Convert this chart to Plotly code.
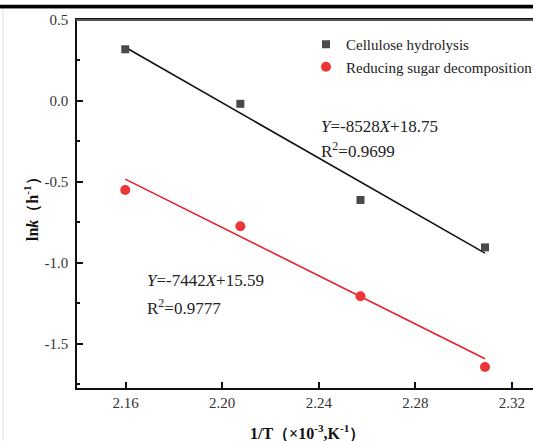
import plotly.graph_objects as go

# Data
inv_T = [2.1598, 2.2075, 2.2573, 2.3089]          # 1/T (x10^-3 K^-1)
cellulose_lnk = [0.319, -0.018, -0.612, -0.905]   # Cellulose hydrolysis
sugar_lnk = [-0.551, -0.774, -1.207, -1.644]      # Reducing sugar decomposition
series_names = ["Cellulose hydrolysis", "Reducing sugar decomposition"]
fit_slopes = [-8528, -7442]
fit_intercepts = [18.75, 15.59]
x_ticks = [2.16, 2.20, 2.24, 2.28, 2.32]
y_ticks = [0.5, 0.0, -0.5, -1.0, -1.5]

SERIF = "Liberation Serif, Times New Roman, serif"
BLACK_C = "#4a4a4a"
RED_C = "#ee3535"
W, H = 533, 441
XR = [2.1398, 2.3288]
YR = [-1.774, 0.5]


def px(xp):
    return xp / W


def py(yp):
    return 1 - yp / H


fig = go.Figure()

# decorative frame lines on a full-figure overlay subplot (x4/y4 = page fractions)
fig.add_trace(go.Scatter(x=[0, 1], y=[py(6.6), py(6.6)], xaxis="x4", yaxis="y4",
                         mode="lines", line=dict(color="#000000", width=3.5),
                         showlegend=False, hoverinfo="skip", cliponaxis=False))
fig.add_trace(go.Scatter(x=[px(76), 1], y=[py(20), py(20)], xaxis="x4", yaxis="y4",
                         mode="lines", line=dict(color="#555555", width=2),
                         showlegend=False, hoverinfo="skip", cliponaxis=False))
fig.add_trace(go.Scatter(x=[px(3), px(3)], y=[0, py(9)], xaxis="x4", yaxis="y4",
                         mode="lines", line=dict(color="#e6ebf0", width=1.5),
                         showlegend=False, hoverinfo="skip", cliponaxis=False))

# fit lines from the stated equations (X in K^-1)
fit_x = [inv_T[0], inv_T[-1]]
for slope, icpt, col in zip(fit_slopes, fit_intercepts, ["#111111", "#e8202a"]):
    fig.add_trace(go.Scatter(
        x=fit_x, y=[slope * v * 1e-3 + icpt for v in fit_x],
        mode="lines", line=dict(color=col, width=1.6),
        showlegend=False, hoverinfo="skip"))

fig.add_trace(go.Scatter(
    x=inv_T, y=cellulose_lnk, mode="markers", name=series_names[0],
    marker=dict(symbol="square", size=8, color=BLACK_C)))
fig.add_trace(go.Scatter(
    x=inv_T, y=sugar_lnk, mode="markers", name=series_names[1],
    marker=dict(symbol="circle", size=10, color=RED_C)))

eq_font = dict(family=SERIF, size=17, color="#222222")
annos = [
    (2.2401, -0.1555, "<i>Y</i>=-8528<i>X</i>+18.75"),
    (2.2401, -0.305, "R<sup>2</sup>=0.9699"),
    (2.1680, -1.108, "<i>Y</i>=-7442<i>X</i>+15.59"),
    (2.1680, -1.272, "R<sup>2</sup>=0.9777"),
]
for ax, ay, txt in annos:
    fig.add_annotation(x=ax, y=ay, xref="x", yref="y", text=txt,
                       showarrow=False, xanchor="left", yanchor="middle",
                       font=eq_font)

# axis titles
fig.add_annotation(
    x=px(307), y=py(432), xref="paper", yref="paper",
    text="<b>1/T（×10<sup>-3</sup>,K<sup>-1</sup>）</b>", showarrow=False,
    xanchor="center", yanchor="middle",
    font=dict(family=SERIF, size=16, color="#111111"))
fig.add_annotation(
    x=px(31), y=py(205), xref="paper", yref="paper",
    text="<b>ln<i>k</i>（h<sup>-1</sup>）</b>", showarrow=False, textangle=-90,
    xanchor="center", yanchor="middle",
    font=dict(family=SERIF, size=16, color="#111111"))

# top black bar also as a shape
fig.add_shape(type="rect", xref="paper", yref="paper",
              x0=0, x1=1, y0=py(8.3), y1=py(5),
              fillcolor="#000000", line=dict(width=0), layer="above")

hidden = dict(showline=False, ticks="", showticklabels=False, showgrid=False,
              zeroline=False, range=[0, 1], domain=[0, 1], fixedrange=True)

fig.update_layout(
    xaxis=dict(
        domain=[px(77), 1], range=XR, tickvals=x_ticks,
        ticktext=[f"{v:.2f}" for v in x_ticks],
        ticks="inside", ticklen=6, tickwidth=1.5, tickcolor="#111111",
        showline=True, linecolor="#111111", linewidth=1.5, mirror=True,
        showgrid=False, zeroline=False, automargin=False,
        tickfont=dict(family=SERIF, size=15, color="#333333")),
    yaxis=dict(
        domain=[py(388), py(20)], range=YR, tickvals=y_ticks,
        ticktext=[f"{v:.1f}" for v in y_ticks],
        ticks="inside", ticklen=6, tickwidth=1.5, tickcolor="#111111",
        minor=dict(ticks="inside", ticklen=3, tickwidth=1.5, tickcolor="#111111",
                   tickvals=[0.25, -0.25, -0.75, -1.25, -1.75]),
        showline=True, linecolor="#111111", linewidth=1.5,
        showgrid=False, zeroline=False, ticklabelstandoff=4, automargin=False,
        tickfont=dict(family=SERIF, size=15, color="#333333")),
    xaxis4=dict(anchor="y4", **hidden),
    yaxis4=dict(anchor="x4", **hidden),
    width=W, height=H,
    margin=dict(l=0, r=0, t=0, b=0, autoexpand=False),
    paper_bgcolor="white", plot_bgcolor="rgba(0,0,0,0)",
    showlegend=True,
    legend=dict(x=px(306), y=py(28), xanchor="left", yanchor="top",
                bgcolor="rgba(0,0,0,0)", borderwidth=0,
                font=dict(family=SERIF, size=15, color="#222222"),
                itemwidth=30, tracegroupgap=0),
)

fig.write_html("out.html",
               config={"displayModeBar": False},
               post_script="document.body.style.margin='0';")
